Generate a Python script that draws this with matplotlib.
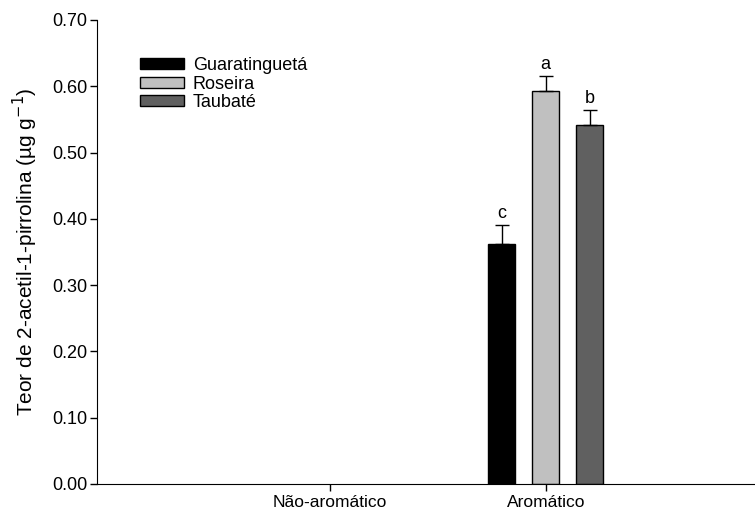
import numpy as np
import matplotlib.pyplot as plt

plt.rcParams['font.family'] = ['Liberation Sans', 'DejaVu Sans']

categories = ['Não-aromático', 'Aromático']
locais = ['Guaratinguetá', 'Roseira', 'Taubaté']
guaratingueta = [0.0, 0.362]
roseira = [0.0, 0.593]
taubate = [0.0, 0.542]
err_guara = [0.0, 0.029]
err_roseira = [0.0, 0.022]
err_taubate = [0.0, 0.022]
letras = [['', 'c'], ['', 'a'], ['', 'b']]

series = [guaratingueta, roseira, taubate]
errs = [err_guara, err_roseira, err_taubate]
cores = ['black', '#c0c0c0', '#606060']

fig = plt.figure(figsize=(7.55, 5.13), dpi=100)
ax = fig.add_axes([97/755, 29/513, 658/755, 464/513])

x = np.arange(len(categories))
w = 0.125
offs = [-0.204, 0, 0.204]
for vals, e, c, lab, off, let in zip(series, errs, cores, locais, offs, letras):
    vals = np.array(vals)
    e = np.array(e)
    # zero values are not drawn (no bar in the original)
    h = np.where(vals > 0, vals, np.nan)
    ax.bar(x + off, h, w, color=c, edgecolor='black', linewidth=1.0, label=lab)
    for xi, v, ei, l in zip(x, vals, e, let):
        if v > 0:
            ax.errorbar(xi + off, v, yerr=[[0], [ei]], color='black', lw=1, capsize=5, capthick=1)
            ax.text(xi + off, v + ei + 0.005, l, ha='center', va='bottom', fontsize=13)

ax.set_xlim(-1.08, 1.97)
ax.set_ylim(0, 0.7)
ax.set_xticks(x)
ax.set_xticklabels(categories, fontsize=12.5)
ax.set_yticks(np.arange(0, 0.71, 0.1))
ax.set_yticklabels(['%.2f' % t for t in np.arange(0, 0.71, 0.1)], fontsize=13)
ax.tick_params(direction='out', length=5, width=1)
ax.tick_params(axis='x', pad=3)
ax.tick_params(axis='y', pad=2)
ax.spines['top'].set_visible(False)
ax.spines['right'].set_visible(False)
ax.set_ylabel('Teor de 2-acetil-1-pirrolina (µg g$^{-1}$)', fontsize=15, labelpad=9)

ax.legend(loc='upper left', bbox_to_anchor=(0.066, 0.92), frameon=False, fontsize=13,
          handlelength=2.4, handleheight=0.55, labelspacing=0.08, handletextpad=0.5,
          borderpad=0, borderaxespad=0)

fig.savefig('out.png', dpi=100)
